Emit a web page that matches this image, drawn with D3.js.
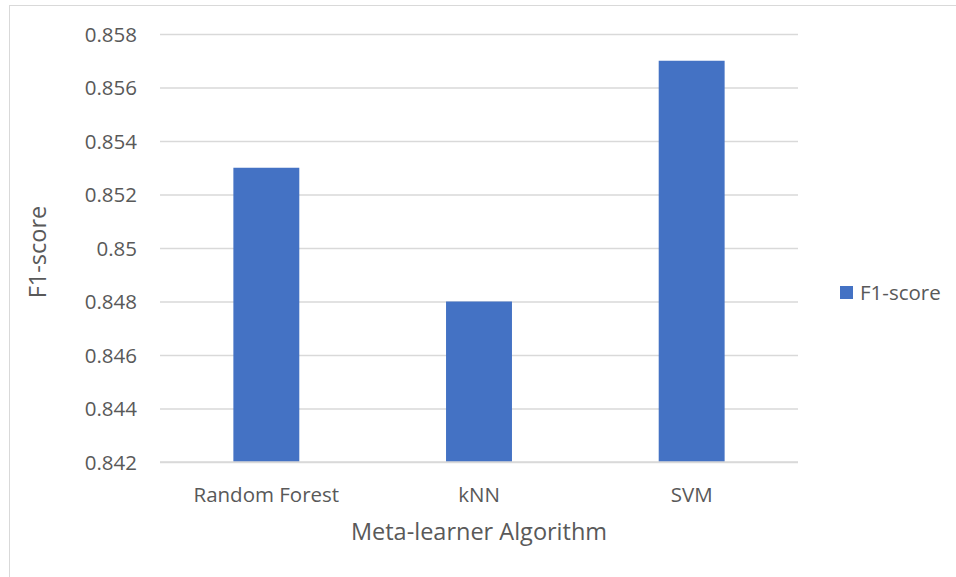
<!DOCTYPE html>
<html>
<head>
<meta charset="utf-8">
<script src="https://cdn.jsdelivr.net/npm/d3@7"></script>
<style>
  html, body { margin: 0; padding: 0; background: #fff; }
  svg { display: block; }
  text { font-family: "Open Sans", "Noto Sans", sans-serif; fill: #595959; }
</style>
</head>
<body>
<svg id="chart" width="956" height="577"></svg>
<script>
// F1-score for each meta-learner
const categories = ["Random Forest", "kNN", "SVM"];
const f1Scores = [0.853, 0.848, 0.857];
const yTicks = [0.842, 0.844, 0.846, 0.848, 0.85, 0.852, 0.854, 0.856, 0.858];
const seriesName = "F1-score";
const xTitle = "Meta-learner Algorithm";
const yTitle = "F1-score";

const svg = d3.select("#chart");
const plot = { left: 160, right: 798, top: 34, bottom: 462 };
const barColor = "#4472c4";
const gridColor = "#d9d9d9";
const labelSize = 20.5;
const titleSize = 23.5;

// chart frame
svg.append("rect")
  .attr("x", 9.5).attr("y", 5.5)
  .attr("width", 960).attr("height", 600)
  .attr("fill", "none").attr("stroke", gridColor).attr("stroke-width", 1);

const x = d3.scaleBand()
  .domain(categories)
  .range([plot.left, plot.right])
  .paddingInner(0.69)
  .paddingOuter(0.345);

const y = d3.scaleLinear()
  .domain([0.842, 0.858])
  .range([plot.bottom, plot.top]);

// horizontal gridlines and value labels
const yAxis = d3.axisLeft(y)
  .tickValues(yTicks)
  .tickSize(-(plot.right - plot.left))
  .tickPadding(23)
  .tickFormat(d => String(+d.toFixed(3)));

const gy = svg.append("g")
  .attr("transform", `translate(${plot.left},0)`)
  .call(yAxis);
gy.select(".domain").remove();
gy.selectAll(".tick line").attr("stroke", gridColor).attr("stroke-width", 1.3);
gy.selectAll(".tick text")
  .attr("font-size", labelSize)
  .attr("dy", "0.35em")
  .attr("fill", "#595959")
  .style("font-family", '"Open Sans", sans-serif');

// bars
svg.append("g").selectAll("rect")
  .data(categories.map((c, i) => ({ c, v: f1Scores[i] })))
  .join("rect")
  .attr("x", d => x(d.c))
  .attr("width", x.bandwidth())
  .attr("y", d => y(d.v))
  .attr("height", d => y(0.842) - y(d.v))
  .attr("fill", barColor);

// category axis
const xAxis = d3.axisBottom(x).tickSize(0);
const gx = svg.append("g")
  .attr("transform", `translate(0,${plot.bottom})`)
  .call(xAxis);
gx.select(".domain").attr("stroke", gridColor).attr("stroke-width", 1.3)
  .attr("d", `M${plot.left},0H${plot.right}`);
gx.selectAll(".tick text")
  .attr("y", 40)
  .attr("dy", 0)
  .attr("font-size", labelSize)
  .attr("fill", "#595959")
  .style("font-family", '"Open Sans", sans-serif');

// axis titles
svg.append("text")
  .attr("x", (plot.left + plot.right) / 2)
  .attr("y", 540)
  .attr("text-anchor", "middle")
  .attr("font-size", titleSize)
  .text(xTitle);

svg.append("text")
  .attr("transform", `translate(46,${(plot.top + plot.bottom) / 2 + 4}) rotate(-90)`)
  .attr("text-anchor", "middle")
  .attr("font-size", titleSize)
  .text(yTitle);

// legend
const legend = svg.append("g").attr("transform", "translate(840,286)");
legend.append("rect").attr("width", 13).attr("height", 13).attr("fill", barColor);
legend.append("text")
  .attr("x", 20).attr("y", 14)
  .attr("font-size", labelSize)
  .text(seriesName);
</script>
</body>
</html>
